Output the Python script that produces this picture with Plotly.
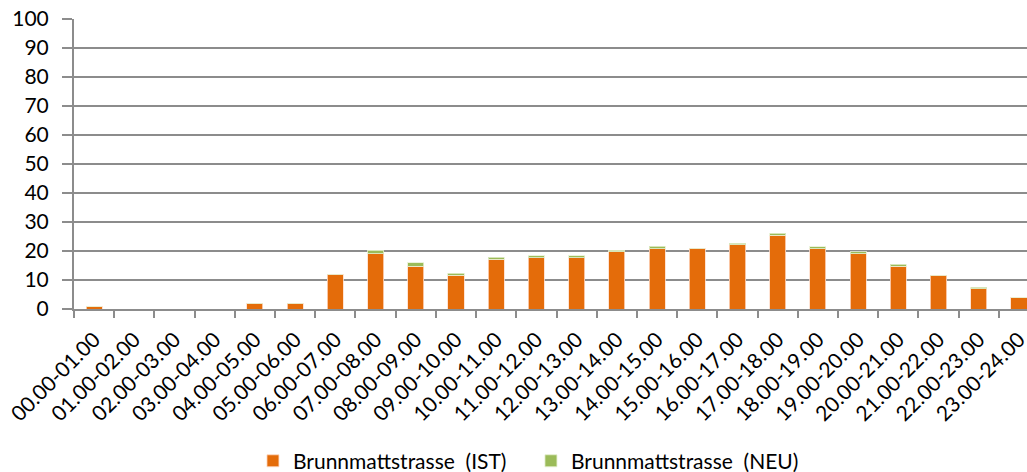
import plotly.graph_objects as go

stunden = ["00.00-01.00", "01.00-02.00", "02.00-03.00", "03.00-04.00", "04.00-05.00",
           "05.00-06.00", "06.00-07.00", "07.00-08.00", "08.00-09.00", "09.00-10.00",
           "10.00-11.00", "11.00-12.00", "12.00-13.00", "13.00-14.00", "14.00-15.00",
           "15.00-16.00", "16.00-17.00", "17.00-18.00", "18.00-19.00", "19.00-20.00",
           "20.00-21.00", "21.00-22.00", "22.00-23.00", "23.00-24.00"]

ist = [0.8, 0, 0, 0, 2, 2, 11.9, 19, 14.8, 11.7, 17.2, 17.7, 17.7, 19.7, 20.7,
       21, 22.1, 25.5, 20.7, 19, 14.8, 11.7, 6.9, 3.9]
neu = [0, 0, 0, 0, 0, 0, 0, 1.2, 1.2, 0.6, 0.6, 0.7, 0.7, 0.5, 0.9,
       0, 0.6, 0.7, 0.8, 0.7, 0.6, 0, 0.6, 0]

fig = go.Figure()
fig.add_trace(go.Bar(x=stunden, y=ist, name="Brunnmattstrasse  (IST)",
                     marker=dict(color="#E46C0A", line=dict(color="rgba(255,220,200,0.8)", width=1))))
fig.add_trace(go.Bar(x=stunden, y=neu, name="Brunnmattstrasse  (NEU)",
                     marker=dict(color="#9BBB59", line=dict(color="rgba(230,240,210,0.8)", width=1))))

fig.update_layout(
    barmode="stack",
    bargap=0.6,
    width=1027, height=472,
    margin=dict(l=74, r=0, t=19, b=163, autoexpand=False),
    plot_bgcolor="white", paper_bgcolor="white",
    font=dict(family="Lato, Carlito, sans-serif", size=21, color="black"),
    showlegend=True,
    legend=dict(orientation="h", traceorder="normal",
                xref="container", x=0.517, xanchor="center",
                yref="container", y=0.023, yanchor="middle",
                font=dict(size=21), itemwidth=30, entrywidth=233),
)
fig.update_xaxes(
    range=[-0.5, 23.2], showgrid=False, automargin=False,
    showline=True, linecolor="#8c8c8c", linewidth=2,
    ticks="outside", tickson="boundaries", ticklen=7, tickcolor="#8c8c8c", tickwidth=2,
    tickangle=-45, tickfont=dict(size=21), ticklabelstandoff=8,
)
fig.update_yaxes(
    range=[0, 100], dtick=10, showgrid=True,
    gridcolor="#8c8c8c", gridwidth=2,
    showline=True, linecolor="#8c8c8c", linewidth=2, automargin=False,
    ticks="outside", ticklen=10, tickcolor="#8c8c8c", tickwidth=2,
    tickfont=dict(size=21), zeroline=False, ticklabelstandoff=9,
)

# drop the default 8px body margin so the figure fills the window, no modebar
fig.write_html("out.html", config={"displayModeBar": False},
               post_script="document.body.style.margin='0';")
